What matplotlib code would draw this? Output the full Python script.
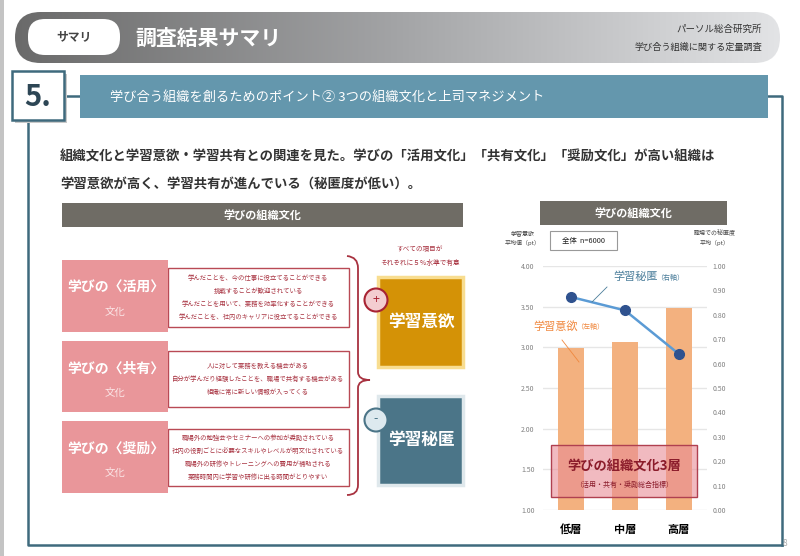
import numpy as np
import matplotlib
matplotlib.use('Agg')
import matplotlib.pyplot as plt
from matplotlib.patches import Rectangle, FancyBboxPatch, Circle, PathPatch
from matplotlib.path import Path
from matplotlib.colors import LinearSegmentedColormap

plt.rcParams['font.family'] = ['Noto Sans CJK JP', 'DejaVu Sans']

# chart data
levels = ['低層', '中層', '高層']
motivation = [2.99, 3.06, 3.48]      # 学習意欲 (left axis)
secrecy = [0.873, 0.818, 0.639]      # 学習秘匿 (right axis)
left_ticks = [1.0, 1.5, 2.0, 2.5, 3.0, 3.5, 4.0]
right_ticks = [0.0, 0.1, 0.2, 0.3, 0.4, 0.5, 0.6, 0.7, 0.8, 0.9, 1.0]

# diagram text
culture_names = ['学びの〈活用〉', '学びの〈共有〉', '学びの〈奨励〉']
culture_items = [
    ['学んだことを、今の仕事に役立てることができる',
     '挑戦することが歓迎されている',
     '学んだことを用いて、業務を効率化することができる',
     '学んだことを、社内のキャリアに役立てることができる'],
    ['人に対して業務を教える機会がある',
     '自分が学んだり経験したことを、職場で共有する機会がある',
     '組織に常に新しい情報が入ってくる'],
    ['職場外の勉強会やセミナーへの参加が奨励されている',
     '社内の役割ごとに必要なスキルやレベルが明文化されている',
     '職場外の研修やトレーニングへの費用が補助される',
     '業務時間内に学習や研修に出る時間がとりやすい'],
]

frame = '#3f6a7d'
red = '#a83240'

fig = plt.figure(figsize=(8, 5.56), dpi=100)
bg = fig.add_axes([0, 0, 1, 1])
bg.set_xlim(0, 800)
bg.set_ylim(556, 0)
bg.set_autoscale_on(False)
bg.axis('off')


def rect(a, x0, y0, x1, y1, **kw):
    r = Rectangle((x0, y0), x1 - x0, y1 - y0, **kw)
    a.add_patch(r)
    return r


# left grey strip
rect(bg, 0, 0, 4, 556, color='#c4c4c4', lw=0)

# header pill with gradient
pill = FancyBboxPatch((15, 12), 765, 51, boxstyle='round,pad=0,rounding_size=25.5',
                      fc='none', ec='none')
bg.add_patch(pill)
cmap = LinearSegmentedColormap.from_list('hdr', ['#6a6a6a', '#a3a4a6', '#e3e4e6'])
im = bg.imshow(np.linspace(0, 1, 256)[None, :], extent=(14, 781, 63, 12),
               cmap=cmap, aspect='auto', zorder=1)
im.set_clip_path(pill)
bg.add_patch(FancyBboxPatch((28, 19), 92, 36, boxstyle='round,pad=0,rounding_size=17',
                            fc='white', ec='none', zorder=2))
bg.text(74, 37, 'サマリ', ha='center', va='center', fontsize=8.5, fontweight='bold',
        color='#444444', zorder=3)
bg.text(135, 38, '調査結果サマリ', ha='left', va='center', fontsize=15, fontweight='bold',
        color='white', zorder=3)
bg.text(762, 29, 'パーソル総合研究所', ha='right', va='center', fontsize=6.8,
        color='#333333', zorder=3)
bg.text(762, 47, '学び合う組織に関する定量調査', ha='right', va='center', fontsize=6.6,
        color='#333333', zorder=3)

# section number + banner + frame
rect(bg, 15, 74, 67, 123, color='#c9c9c9', lw=0, zorder=2)
rect(bg, 12, 71, 64, 120, fc='white', ec=frame, lw=1.8, zorder=3)
bg.text(38, 97, '5.', ha='center', va='center', fontsize=21, fontweight='bold',
        color='#2d4655', zorder=4)
rect(bg, 80, 75, 768, 118, color='#6497ad', lw=0, zorder=2)
bg.text(110, 97, '学び合う組織を創るためのポイント② 3つの組織文化と上司マネジメント',
        ha='left', va='center', fontsize=9.5, color='white', zorder=3)
bg.plot([64, 80], [96, 96], color=frame, lw=1.8, zorder=1)
bg.plot([768, 782, 782], [96, 96, 545], color=frame, lw=1.8, zorder=1)
bg.plot([28, 28, 782], [120, 545, 545], color=frame, lw=1.8, zorder=1)

bg.text(60, 157, '組織文化と学習意欲・学習共有との関連を見た。学びの「活用文化」「共有文化」「奨励文化」が高い組織は',
        ha='left', va='center', fontsize=9.6, fontweight='bold', color='#333333')
bg.text(60, 184, '学習意欲が高く、学習共有が進んでいる（秘匿度が低い）。',
        ha='left', va='center', fontsize=9.6, fontweight='bold', color='#333333')

# section headers
rect(bg, 62, 203, 463, 227, color='#6f6c65', lw=0)
bg.text(262, 215, '学びの組織文化', ha='center', va='center', fontsize=8,
        fontweight='bold', color='white')
rect(bg, 540, 201, 727, 225, color='#6f6c65', lw=0)
bg.text(633, 213, '学びの組織文化', ha='center', va='center', fontsize=8,
        fontweight='bold', color='white')

# culture boxes
pink_y = [(260, 332), (341, 412), (421, 493)]
item_y = [(268, 327), (351, 407), (429, 486)]
for name, items, (p0, p1), (i0, i1) in zip(culture_names, culture_items, pink_y, item_y):
    rect(bg, 168, i0, 349, i1, fc='white', ec='#b94a55', lw=1)
    rect(bg, 62, p0, 168, p1, color='#e9969a', lw=0, zorder=3)
    bg.text(116, p0 + 28, name, ha='center', va='center', fontsize=10,
            fontweight='bold', color='white', zorder=4)
    bg.text(115, p0 + 52, '文化', ha='center', va='center', fontsize=7.5,
            color='#fbe6e7', zorder=4)
    mid = (i0 + i1) / 2
    n = len(items)
    for k, t in enumerate(items):
        bg.text(258, mid + (k - (n - 1) / 2) * 13.3, t, ha='center', va='center',
                fontsize=4.6, color=red)

# curly brace
verts = [(347, 256), (358, 257), (358, 268), (358, 372), (358, 380), (370, 380),
         (358, 380), (358, 388), (358, 485), (358, 495), (347, 495)]
codes = [Path.MOVETO, Path.CURVE3, Path.CURVE3, Path.LINETO, Path.CURVE3, Path.CURVE3,
         Path.CURVE3, Path.CURVE3, Path.LINETO, Path.CURVE3, Path.CURVE3]
bg.add_patch(PathPatch(Path(verts, codes), fc='none', ec=red, lw=1.3))

bg.text(420, 249, 'すべての項目が', ha='center', va='center', fontsize=4.8, color=red)
bg.text(420, 263, 'それぞれに５％水準で有意', ha='center', va='center', fontsize=4.8, color=red)

rect(bg, 378, 277, 463, 367, fc='#d49206', ec='#f8dd90', lw=2.5)
bg.text(421, 322, '学習意欲', ha='center', va='center', fontsize=12,
        fontweight='bold', color='white')
rect(bg, 378, 396, 463, 485, fc='#4b7588', ec='#dfe8ec', lw=2.5)
bg.text(421, 440, '学習秘匿', ha='center', va='center', fontsize=12,
        fontweight='bold', color='white')
bg.add_patch(Circle((376, 300), 11.5, fc='#f3cdd0', ec='#a82333', lw=1.5, zorder=5))
bg.text(376, 300, '+', ha='center', va='center', fontsize=9, color='#a82333', zorder=6)
bg.add_patch(Circle((376, 420), 11.5, fc='#dde9ef', ec='#4b7588', lw=1.5, zorder=5))
bg.text(376, 419, '-', ha='center', va='center', fontsize=9, color='#4b7588', zorder=6)

# chart
ax = fig.add_axes([543 / 800, 46 / 556, 164 / 800, 244 / 556])
ax.patch.set_visible(False)
x = np.arange(len(levels))
ax.bar(x, motivation, width=0.48, color='#f3b17f', zorder=2)
ax.set_xlim(-0.52, 2.52)
ax.set_ylim(1, 4)
ax.set_yticks(left_ticks)
ax.set_yticklabels([f'{v:.2f}' for v in left_ticks])
ax.yaxis.grid(True, color='#e6e6e6', lw=1)
ax.set_axisbelow(True)
ax.set_xticks(x)
ax.set_xticklabels(levels, fontsize=8, fontweight='bold', color='black')
ax.tick_params(axis='x', length=0, pad=9)
ax.tick_params(axis='y', length=0, labelsize=5, labelcolor='#808080', pad=6)

ax2 = ax.twinx()
ax2.plot(x, secrecy, color='#5b9bd5', lw=1.8, marker='o', ms=7,
         mfc='#2f528f', mec='#2f528f', zorder=3)
ax2.set_ylim(0, 1)
ax2.set_yticks(right_ticks)
ax2.set_yticklabels([f'{v:.2f}' for v in right_ticks])
ax2.tick_params(axis='y', length=0, labelsize=5, labelcolor='#808080', pad=4)
for a in (ax, ax2):
    for s in a.spines.values():
        s.set_visible(False)

# overlay annotations on top of chart
fg = fig.add_axes([0, 0, 1, 1], zorder=10)
fg.set_xlim(0, 800)
fg.set_ylim(556, 0)
fg.axis('off')
fg.patch.set_visible(False)

rect(fg, 551, 445, 697, 497, fc=(0.91, 0.55, 0.59, 0.6), ec='#b04050', lw=1)
fg.text(624, 467, '学びの組織文化3層', ha='center', va='center', fontsize=9.5,
        fontweight='bold', color='#8b1c2b')
fg.text(624, 485, '（活用・共有・奨励総合指標）', ha='center', va='center', fontsize=5,
        color='#8b1c2b')

fg.text(613, 277, '学習秘匿', ha='left', va='center', fontsize=8, color='#4a7d9a')
fg.text(656, 278, '（右軸）', ha='left', va='center', fontsize=5, color='#4a7d9a')
fg.plot([607, 592], [287, 302], color='#4a7d9a', lw=0.6)
fg.text(533, 326, '学習意欲', ha='left', va='center', fontsize=8, color='#f0883e')
fg.text(576, 327, '（左軸）', ha='left', va='center', fontsize=5, color='#f0883e')
fg.plot([562, 579], [340, 362], color='#f0883e', lw=0.6)

rect(fg, 550, 231, 617, 250, fc='white', ec='#999999', lw=0.8)
fg.text(583, 241, '全体  n=6000', ha='center', va='center', fontsize=5.3, color='#222222')
fg.text(523, 238, '学習意欲\n平均値（pt）', ha='center', va='center', fontsize=4.3,
        color='#444444', linespacing=1.8)
fg.text(715, 238, '職場での秘匿度\n平均（pt）', ha='center', va='center', fontsize=4.3,
        color='#444444', linespacing=1.8)

fg.text(785, 543, '8', ha='center', va='center', fontsize=6, color='#aaaaaa')

fig.savefig('out.png', dpi=100)
